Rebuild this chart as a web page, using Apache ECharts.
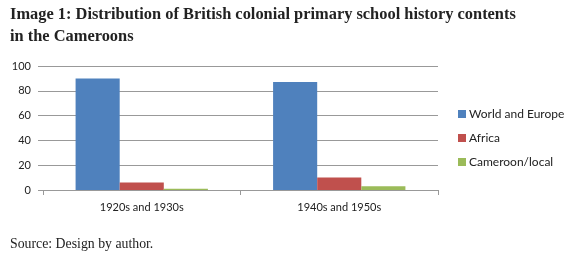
<!DOCTYPE html>
<html>
<head>
<meta charset="utf-8">
<script src="https://cdn.jsdelivr.net/npm/echarts@6/dist/echarts.min.js"></script>
<style>
  html, body { margin: 0; padding: 0; background: #fff; }
  #chart { width: 580px; height: 254px; }
</style>
</head>
<body>
<div id="chart"></div>
<script>
// data
const categories = ['1920s and 1930s', '1940s and 1950s']
const worldEurope = [90, 87]
const africa = [6, 10]
const cameroonLocal = [1, 3]
const seriesNames = ['World and Europe', 'Africa', 'Cameroon/local']

const chart = echarts.init(document.getElementById('chart'))
const labelFont = 'Lato, "Open Sans", sans-serif'

chart.setOption({
  animation: false,
  color: ['#4F81BD', '#C0504D', '#9BBB59'],
  title: [
    {
      text: 'Image 1: Distribution of British colonial primary school history contents\nin the Cameroons',
      left: 5,
      top: -1,
      textStyle: {
        fontFamily: '"Liberation Serif", serif',
        fontWeight: 'bold',
        fontSize: 16.4,
        lineHeight: 22,
        color: '#222'
      }
    },
    {
      text: 'Source: Design by author.',
      left: 5,
      top: 232,
      textStyle: {
        fontFamily: '"Liberation Serif", serif',
        fontWeight: 'normal',
        fontSize: 13.8,
        color: '#222'
      }
    }
  ],
  legend: {
    orient: 'vertical',
    left: 453,
    top: 103,
    itemWidth: 8,
    itemHeight: 8,
    itemGap: 12,
    icon: 'rect',
    textStyle: {
      fontFamily: labelFont,
      fontSize: 12,
      color: '#222',
      padding: [0, 0, 0, -2]
    },
    data: seriesNames
  },
  grid: {
    left: 43,
    right: 142,
    top: 66,
    bottom: 64
  },
  xAxis: {
    type: 'category',
    data: categories,
    axisLine: { lineStyle: { color: '#999' } },
    axisTick: { show: true, length: 5, lineStyle: { color: '#999' } },
    axisLabel: {
      fontFamily: labelFont,
      fontSize: 11,
      color: '#222',
      margin: 12
    }
  },
  yAxis: {
    type: 'value',
    min: 0,
    max: 100,
    interval: 20,
    axisLine: { show: false },
    axisTick: { show: true, length: 5, lineStyle: { color: '#999' } },
    splitLine: { lineStyle: { color: '#999' } },
    axisLabel: {
      fontFamily: labelFont,
      fontSize: 11,
      color: '#222',
      margin: 12
    }
  },
  series: [
    {
      name: seriesNames[0],
      type: 'bar',
      barGap: '0%',
      barCategoryGap: '33%',
      data: worldEurope
    },
    {
      name: seriesNames[1],
      type: 'bar',
      data: africa
    },
    {
      name: seriesNames[2],
      type: 'bar',
      data: cameroonLocal
    }
  ]
})
</script>
</body>
</html>
